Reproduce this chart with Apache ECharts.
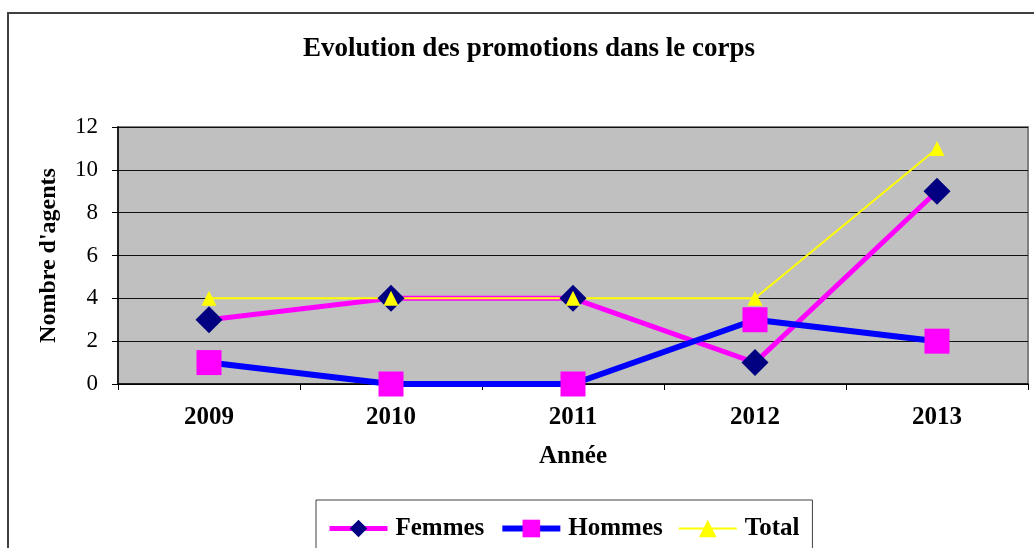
<!DOCTYPE html>
<html>
<head>
<meta charset="utf-8">
<script src="https://cdn.jsdelivr.net/npm/echarts@6/dist/echarts.min.js"></script>
<style>html,body{margin:0;padding:0;background:#fff;}#c{width:1034px;height:548px;}</style>
</head>
<body>
<div id="c"></div>
<script>
const categories = ['2009', '2010', '2011', '2012', '2013'];
const femmes = [3, 4, 4, 1, 9];
const hommes = [1, 0, 0, 3, 2];
const total = [4, 4, 4, 4, 11];
const yTicks = { min: 0, max: 12, interval: 2 };

const serif = '"Liberation Serif", "Times New Roman", serif';
const chart = echarts.init(document.getElementById('c'), null, { renderer: 'canvas' });
chart.setOption({
  animation: false,
  backgroundColor: '#fff',
  graphic: [
    { type: 'rect', z: 0, shape: { x: 8, y: 13, width: 1100, height: 600 }, style: { fill: null, stroke: '#404040', lineWidth: 2 } },
    { type: 'text', x: 529, y: 49, style: { text: 'Evolution des promotions dans le corps', fontFamily: serif, fontWeight: 'bold', fontSize: 27, fill: '#000', align: 'center', verticalAlign: 'middle' } }
  ],
  grid: { left: 118, top: 127, right: 6, bottom: 164, show: true, backgroundColor: '#C0C0C0', borderColor: '#808080', borderWidth: 2 },
  xAxis: {
    type: 'category', data: categories, boundaryGap: true,
    name: 'Année', nameLocation: 'middle', nameGap: 60,
    nameTextStyle: { fontFamily: serif, fontWeight: 'bold', fontSize: 25, color: '#000' },
    axisLine: { lineStyle: { color: '#000', width: 1.5 } },
    axisTick: { show: true, length: 6, lineStyle: { color: '#000' } },
    axisLabel: { margin: 21, fontFamily: serif, fontWeight: 'bold', fontSize: 25, color: '#000' },
    splitLine: { show: false }
  },
  yAxis: {
    type: 'value', min: yTicks.min, max: yTicks.max, interval: yTicks.interval,
    name: "Nombre d'agents", nameLocation: 'middle', nameGap: 57,
    nameTextStyle: { fontFamily: serif, fontWeight: 'bold', fontSize: 24, color: '#000' },
    axisLine: { show: true, lineStyle: { color: '#000', width: 1.5 } },
    axisTick: { show: true, length: 6, lineStyle: { color: '#000' } },
    axisLabel: { margin: 20, fontFamily: serif, fontSize: 23, color: '#000' },
    splitLine: { show: true, lineStyle: { color: '#111', width: 1 } }
  },
  legend: {
    left: 316, top: 500, orient: 'horizontal',
    padding: [16, 13, 40, 11], itemGap: 15, itemWidth: 58, itemHeight: 22,
    borderColor: '#404040', borderWidth: 1, backgroundColor: '#fff',
    textStyle: { fontFamily: serif, fontWeight: 'bold', fontSize: 25, color: '#000', padding: [0, 0, 0, 3] },
    data: [
      { name: 'Femmes', lineStyle: { width: 5 } },
      { name: 'Hommes', lineStyle: { width: 6 } },
      { name: 'Total', lineStyle: { width: 2 } }
    ]
  },
  series: [
    { name: 'Femmes', type: 'line', data: femmes, symbol: 'diamond', symbolSize: 27,
      itemStyle: { color: '#000080' }, lineStyle: { color: '#FF00FF', width: 5 } },
    { name: 'Hommes', type: 'line', data: hommes, symbol: 'rect', symbolSize: 25,
      itemStyle: { color: '#FF00FF' }, lineStyle: { color: '#0000FF', width: 6 } },
    { name: 'Total', type: 'line', data: total, symbol: 'triangle', symbolSize: 15,
      itemStyle: { color: '#FFFF00' }, lineStyle: { color: '#FFFF00', width: 2 } }
  ]
});
</script>
</body>
</html>
